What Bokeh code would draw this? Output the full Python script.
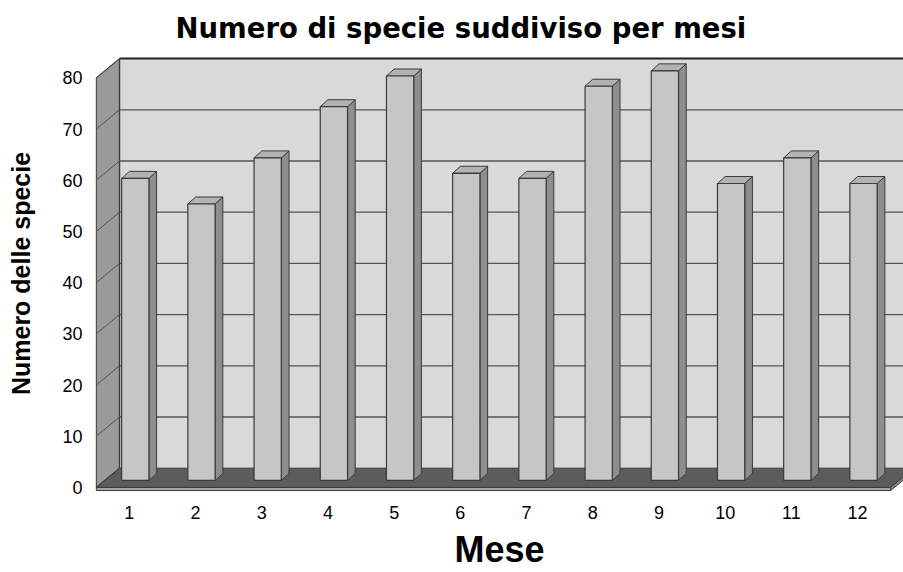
from bokeh.plotting import figure
from bokeh.models import FixedTicker, Range1d
from bokeh.embed import file_html
from bokeh.resources import INLINE

# ---------------- data ----------------
mesi = [1, 2, 3, 4, 5, 6, 7, 8, 9, 10, 11, 12]
specie = [59, 54, 63, 73, 79, 60, 59, 77, 80, 58, 63, 58]
tick_y = [0, 10, 20, 30, 40, 50, 60, 70, 80]
titolo = "Numero di specie suddiviso per mesi"
etichetta_x = "Mese"
etichetta_y = "Numero delle specie"

# ---------------- 3D projection parameters (data units) ----------------
BACK_DX, BACK_DY = 0.352, 3.77      # back wall offset from front plane
BAR_DX, BAR_DY = 0.09, 1.37         # bar front plane offset
BAR_W = 0.412                       # bar front width
DEP_X, DEP_Y = 0.116, 1.37          # bar depth
SLAB = 0.6                          # floor thickness
Y_TOP = tick_y[-1]
X_LO, X_HI = mesi[0] - 0.5, mesi[-1] + 0.5

p = figure(width=903, height=572,
           x_range=Range1d(0.489, 12.694), y_range=Range1d(-0.98, 84.57),
           output_backend="svg", toolbar_location=None,
           min_border_left=95, min_border_right=0,
           min_border_top=54, min_border_bottom=80)
p.outline_line_color = None
p.background_fill_color = "white"
p.border_fill_color = "white"
p.xgrid.visible = False
p.ygrid.visible = False

EDGE = "#3a3a3a"
GRID = "#555555"

# back wall
bx0 = X_LO + BACK_DX
bx1 = X_HI + BACK_DX + 1.0
p.patch([bx0, bx1, bx1, bx0], [BACK_DY, BACK_DY, BACK_DY + Y_TOP, BACK_DY + Y_TOP],
        fill_color="#d9d9d9", line_color=None)
# left wall
p.patch([X_LO, bx0, bx0, X_LO], [0, BACK_DY, BACK_DY + Y_TOP, Y_TOP],
        fill_color="#9a9a9a", line_color=EDGE, line_width=1.2)

# gridlines (back wall + left wall)
for v in tick_y[1:-1]:
    p.line([bx0, bx1], [BACK_DY + v, BACK_DY + v], line_color=GRID, line_width=1.3)
    p.line([X_LO, bx0], [v, BACK_DY + v], line_color=GRID, line_width=1.0)
# top edge of back wall
p.line([bx0, bx1], [BACK_DY + Y_TOP, BACK_DY + Y_TOP], line_color="#222222", line_width=2)
p.line([bx0, bx0], [BACK_DY, BACK_DY + Y_TOP], line_color=EDGE, line_width=1.2)

# floor (top surface)
p.patch([X_LO, X_HI, X_HI + BACK_DX, bx0], [0, 0, BACK_DY, BACK_DY],
        fill_color="#5c5c5c", line_color=EDGE, line_width=1)
# floor slab front and right side
p.patch([X_LO, X_HI, X_HI, X_LO], [0, 0, -SLAB, -SLAB],
        fill_color="#a4a4a4", line_color=EDGE, line_width=1)
p.patch([X_HI, X_HI + BACK_DX, X_HI + BACK_DX, X_HI],
        [0, BACK_DY, BACK_DY - SLAB, -SLAB],
        fill_color="#8a8a8a", line_color=EDGE, line_width=1)

# bars
L = [m + BAR_DX - BAR_W / 2 for m in mesi]
R = [m + BAR_DX + BAR_W / 2 for m in mesi]
B = [BAR_DY for _ in mesi]
T = [BAR_DY + v for v in specie]

side_xs = [[r, r + DEP_X, r + DEP_X, r] for r in R]
side_ys = [[b, b + DEP_Y, t + DEP_Y, t] for b, t in zip(B, T)]
top_xs = [[l, r, r + DEP_X, l + DEP_X] for l, r in zip(L, R)]
top_ys = [[t, t, t + DEP_Y, t + DEP_Y] for t in T]

p.patches(side_xs, side_ys, fill_color="#8e8e8e", line_color=EDGE, line_width=1)
p.patches(top_xs, top_ys, fill_color="#b2b2b2", line_color=EDGE, line_width=1)
p.quad(left=L, right=R, bottom=B, top=T, fill_color="#c6c6c6",
       line_color=EDGE, line_width=1.2)

# axes
p.xaxis.ticker = FixedTicker(ticks=mesi)
p.yaxis.ticker = FixedTicker(ticks=tick_y)
for ax in (p.xaxis[0], p.yaxis[0]):
    ax.axis_line_color = None
    ax.major_tick_line_color = None
    ax.minor_tick_line_color = None
    ax.major_tick_out = 0
    ax.major_tick_in = 0
    ax.major_label_text_font = "Liberation Sans"
    ax.major_label_text_font_size = "18px"
    ax.major_label_text_color = "black"
    ax.axis_label_text_font = "Liberation Sans"
    ax.axis_label_text_font_style = "bold"
    ax.axis_label_text_color = "black"

p.xaxis.major_label_standoff = 13
p.xaxis.axis_label = etichetta_x
p.xaxis.axis_label_text_font_size = "36px"
p.xaxis.axis_label_standoff = 7

p.yaxis.major_label_standoff = 13
p.yaxis.axis_label = etichetta_y
p.yaxis.axis_label_text_font_size = "25px"
p.yaxis.axis_label_standoff = 24

p.title.text = titolo
p.title.text_font = "DejaVu Sans"
p.title.text_font_style = "bold"
p.title.text_font_size = "27.5px"
p.title.text_color = "black"
p.title.align = "left"
p.title.offset = 80
p.title.vertical_align = "top"
p.title.standoff = 18

open("out.html", "w").write(file_html(p, INLINE))
